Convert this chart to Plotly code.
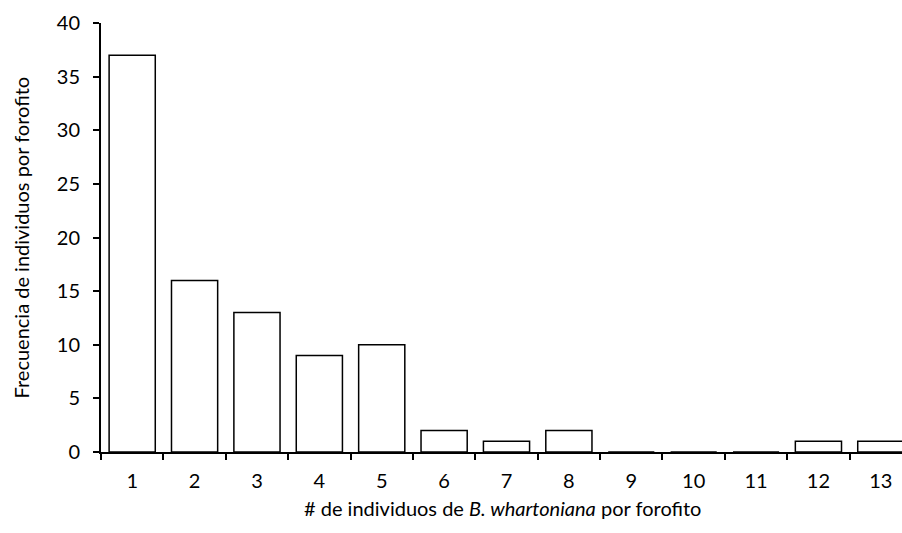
import plotly.graph_objects as go

categories = ["1", "2", "3", "4", "5", "6", "7", "8", "9", "10", "11", "12", "13"]
frequency = [37, 16, 13, 9, 10, 2, 1, 2, 0, 0, 0, 1, 1]
y_ticks = [0, 5, 10, 15, 20, 25, 30, 35, 40]
x_title = "# de individuos de <i>B. whartoniana</i> por forofito"
y_title = "Frecuencia de individuos por forofito"

FONT = "Lato, 'Open Sans', sans-serif"

fig = go.Figure(
    go.Bar(
        x=categories,
        y=frequency,
        marker=dict(color="white", line=dict(color="black", width=1.5)),
        width=0.74,
    )
)

fig.update_layout(
    width=912,
    height=533,
    margin=dict(l=101, r=0, t=23, b=81),
    plot_bgcolor="white",
    paper_bgcolor="white",
    font=dict(family=FONT, size=20, color="black"),
    showlegend=False,
    annotations=[
        dict(text=x_title, x=0.5, y=0, xref="paper", yref="paper", yshift=-56, xshift=-4,
             showarrow=False, xanchor="center", yanchor="middle", font=dict(size=20)),
        dict(text=y_title, x=0, y=0.5, xref="paper", yref="paper", xshift=-81,
             showarrow=False, xanchor="center", yanchor="middle", textangle=-90, font=dict(size=20)),
    ],
)

fig.update_xaxes(
    type="category",
    automargin=False,
    showline=True,
    linecolor="black",
    linewidth=2,
    ticks="outside",
    tickson="boundaries",
    ticklen=6,
    tickwidth=2,
    tickcolor="black",
    ticklabelstandoff=10,
    showgrid=False,
    zeroline=False,
)

fig.update_yaxes(
    range=[0, 40],
    automargin=False,
    tickvals=y_ticks,
    showline=True,
    linecolor="black",
    linewidth=2,
    ticks="outside",
    ticklen=6,
    tickwidth=2,
    tickcolor="black",
    ticklabelstandoff=9,
    showgrid=False,
    zeroline=False,
)

fig.write_html(
    "out.html",
    config={"displayModeBar": False},
    post_script="document.body.style.margin='0';document.documentElement.style.overflow='hidden';document.body.style.overflow='hidden';",
)
